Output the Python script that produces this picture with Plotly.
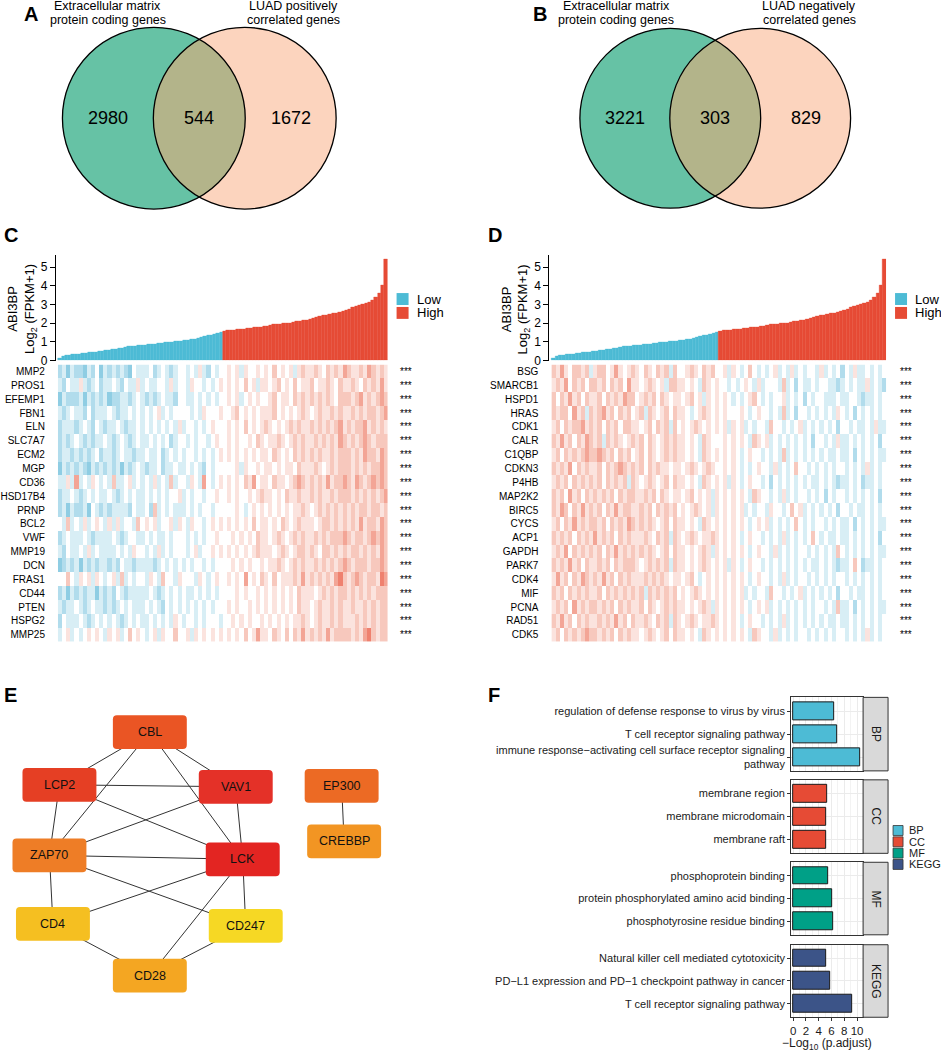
import numpy as np
import plotly.graph_objects as go

W, H = 941, 1062
FONT = "Liberation Sans, Arial, sans-serif"

# ------------------------------------------------------------------ data
venn_a_labels = [["Extracellular matrix", "protein coding genes"], ["LUAD positively", "correlated genes"]]
venn_a_counts = [2980, 544, 1672]
venn_b_labels = [["Extracellular matrix", "protein coding genes"], ["LUAD negatively", "correlated genes"]]
venn_b_counts = [3221, 303, 829]

# ABI3BP log2(FPKM+1), samples sorted ascending
abi3bp_sorted = [
    0.15, 0.22, 0.27, 0.30, 0.32, 0.34, 0.36, 0.38, 0.40, 0.42,
    0.45, 0.47, 0.50, 0.52, 0.54, 0.56, 0.59, 0.62, 0.65, 0.68,
    0.71, 0.74, 0.76, 0.78, 0.80, 0.82, 0.84, 0.86, 0.88, 0.90,
    0.92, 0.94, 0.96, 0.98, 1.00, 1.02, 1.04, 1.06, 1.08, 1.10,
    1.13, 1.16, 1.19, 1.24, 1.30, 1.34, 1.38, 1.42, 1.46, 1.52,
    1.58, 1.60, 1.62, 1.64, 1.66, 1.68, 1.70, 1.72, 1.74, 1.76,
    1.78, 1.80, 1.83, 1.86, 1.89, 1.92, 1.94, 1.96, 1.98, 2.00,
    2.02, 2.05, 2.08, 2.11, 2.14, 2.17, 2.21, 2.26, 2.31, 2.37,
    2.41, 2.44, 2.48, 2.51, 2.54, 2.59, 2.65, 2.71, 2.77, 2.83,
    2.89, 2.95, 3.01, 3.07, 3.14, 3.25, 3.40, 3.62, 4.05, 5.45,
]
n_low = 50
group_names = ["Low", "High"]

genes_c = ["MMP2", "PROS1", "EFEMP1", "FBN1", "ELN", "SLC7A7", "ECM2", "MGP", "CD36", "HSD17B4",
           "PRNP", "BCL2", "VWF", "MMP19", "DCN", "FRAS1", "CD44", "PTEN", "HSPG2", "MMP25"]
# scaled expression levels 0..8 (4 = 0), samples in the same order as the bar strip
heat_c = [
    "2313221324 1323232143 3342343234 4343532434 4545354454 5464545356 5565465657 6556576565",
    "3243353234 2334324335 3433443534 4354434345 4545464535 5456454645 5645565465 5654656575",
    "1322231323 2312233234 3232343324 4334343434 4545345454 4564554656 5656565466 6567565676",
    "3234332423 3343233434 3434534344 4434354445 4456454545 5564545456 5456556565 5656566567",
    "2333234324 3233432334 3434343435 3443434544 4545464545 6545456565 5656565675 6566756565",
    "2323432323 3432343234 3343434234 4343443454 4545445465 4556545656 5565656576 5656765666",
    "2332323234 2332343323 3433423434 3443434345 4545454545 5465454656 5656556566 6565766576",
    "1323232132 3232313234 3233423343 3434324344 4445354454 5545455465 5565456566 6565656676",
    "3353734354 3436334534 3435343634 4354374345 4545465745 5465545676 5656575667 6576567676",
    "2334323434 3343234343 3434343445 3434434454 4545445456 5545465565 5656556566 6565656567",
    "2313223143 2323333243 3426343433 3434344344 4445434545 4545454556 5456565656 5656656656",
    "4363435345 4353534436 4545344535 4354434545 4545454645 5454654565 5545665656 5657566576",
    "2343334323 3334323443 3434334344 4343434454 4454545465 5456545656 5565656667 6566567676",
    "3243343534 3333434354 4343534344 4345344545 4545454565 5545654566 5654665656 5665656576",
    "1232313232 3323243323 3332343434 3434434344 4454545445 4556545656 5565656567 6566656676",
    "4464354535 4345363434 4354364435 4443543454 4545474546 5464555657 5656565786 5676566587",
    "2313232331 3232432333 3343234343 4334343434 4445454454 5454545465 5545656566 5656565666",
    "3233432343 3232343433 3434324343 4343434344 4545445454 5454545465 5456556565 5655656566",
    "2433343234 3434323434 3343434354 3443434443 4454545445 4545454556 5456556565 5565656566",
    "3453434545 4354534645 4345354464 4535454545 4545464575 5465464657 5656575666 6565786566",
]

genes_d = ["BSG", "SMARCB1", "HSPD1", "HRAS", "CDK1", "CALR", "C1QBP", "CDKN3", "P4HB", "MAP2K2",
           "BIRC5", "CYCS", "ACP1", "GAPDH", "PARK7", "CDK4", "MIF", "PCNA", "RAD51", "CDK5"]
heat_d = [
    "6575466563 5664575456 5465465636 4456546564 4535434643 4345343534 3443534342 4353343434",
    "5657465646 6564656475 5456545366 5545436545 4434345435 3444363424 3343443323 4343353432",
    "6465756465 5646565766 4565646545 5456453545 4543434564 3434453434 2434433343 3443233434",
    "6566475636 5675646564 5636545646 5543456545 4544454345 4434363424 4343434354 3424343434",
    "5646566756 5646564665 5456465636 4545654545 4535453434 4364434345 3434343424 4343343533",
    "6575646576 5636565456 5646545656 5545436544 4545454365 4534343434 3424434353 3434343424",
    "5646565676 6765646564 5646545656 5545436545 4545434544 3434363434 3434343343 3424343433",
    "6565746565 5646567656 5646565545 5456545654 4545434345 4435343464 4343434344 3434353434",
    "5656465656 5646565636 5456545646 5545436545 4535434544 3424343434 3433434323 3434233434",
    "6564756465 6565646566 5565646545 5456454535 4545454365 4434353434 4343424344 3434343424",
    "6576465756 5646575665 5656465656 4545654535 4545453434 4354434645 3434343424 4343343434",
    "5646575656 6564656576 5656545646 5545436545 4545454345 4534343464 3434434343 3424343433",
    "6565646565 7565646565 5565465636 5456545565 4545434544 3434353434 3464343343 3434343424",
    "5657465656 5646575656 5656545646 5545456535 4545454345 4435343434 4343434364 3434343433",
    "6565756465 5656465666 5456565636 5545456545 4535434544 3434343434 3433434323 3464233434",
    "5756465765 6575646565 5565656545 5456434545 4545454345 4434353434 4343434344 3434343434",
    "6564656565 5646565656 5636565656 4545654545 4545453434 4364434345 3434343424 4343343434",
    "5656475656 6565646565 5646545656 5545456535 4545454345 4534343434 3434434363 3424343433",
    "6575646565 5656575646 5565465636 5456545565 4545434544 3434353434 3434343343 3434343434",
    "5646565676 6565646565 5456545646 5545436545 4545454365 4435343434 4343434344 3434353434",
]

ppi_nodes = ["CBL", "LCP2", "VAV1", "ZAP70", "LCK", "CD4", "CD247", "CD28", "EP300", "CREBBP"]
ppi_edges = [
    ("CBL", "LCP2"), ("CBL", "ZAP70"), ("CBL", "LCK"), ("CBL", "VAV1"),
    ("LCP2", "VAV1"), ("LCP2", "LCK"), ("LCP2", "ZAP70"),
    ("VAV1", "ZAP70"), ("VAV1", "LCK"),
    ("ZAP70", "LCK"), ("ZAP70", "CD4"), ("ZAP70", "CD247"),
    ("LCK", "CD4"), ("LCK", "CD28"), ("LCK", "CD247"),
    ("CD4", "CD28"), ("CD247", "CD28"),
    ("EP300", "CREBBP"),
]

enrich_groups = ["BP", "CC", "MF", "KEGG"]
enrich_terms = {
    "BP": ["regulation of defense response to virus by virus",
           "T cell receptor signaling pathway",
           "immune response\u2212activating cell surface receptor signaling<br>pathway"],
    "CC": ["membrane region", "membrane microdomain", "membrane raft"],
    "MF": ["phosphoprotein binding", "protein phosphorylated amino acid binding",
           "phosphotyrosine residue binding"],
    "KEGG": ["Natural killer cell mediated cytotoxicity",
             "PD\u2212L1 expression and PD\u22121 checkpoint pathway in cancer",
             "T cell receptor signaling pathway"],
}
enrich_values = {
    "BP": [6.4, 6.9, 10.5],
    "CC": [5.25, 5.2, 5.2],
    "MF": [5.4, 6.1, 6.3],
    "KEGG": [5.1, 5.8, 9.3],
}
enrich_ticks = [0, 2, 4, 6, 8, 10]

# ------------------------------------------------------------------ styles / layout
NPG = {"BP": "#4DBBD5", "CC": "#E64B35", "MF": "#00A087", "KEGG": "#3C5488"}
LOW_COL, HIGH_COL = "#4DBBD5", "#E64B35"
node_pos = {"CBL": (149, 737), "LCP2": (58.5, 790), "VAV1": (235, 792), "ZAP70": (48.5, 861),
            "LCK": (242, 865), "CD4": (52, 930), "CD247": (245, 932), "CD28": (149, 982),
            "EP300": (341, 791), "CREBBP": (343.5, 847)}
node_col = {"CBL": "#EA5524", "LCP2": "#E53F24", "VAV1": "#E43128", "ZAP70": "#EE7D26",
            "LCK": "#E32522", "CD4": "#F5BF21", "CD247": "#F6D824", "CD28": "#F4A622",
            "EP300": "#EC6A24", "CREBBP": "#F29523"}


def dx(a, b):
    return [a / W, b / W]


def dy(a, b):
    return [1 - b / H, 1 - a / H]


fig = go.Figure()
shapes, annos = [], []
layout = dict(
    width=W, height=H, margin=dict(l=0, r=0, t=0, b=0),
    paper_bgcolor="white", plot_bgcolor="rgba(0,0,0,0)",
    showlegend=False, barmode="overlay", bargap=0,
    font=dict(family=FONT, color="black"),
    xaxis=dict(domain=[0, 1], range=[0, W], visible=False, fixedrange=True),
    yaxis=dict(domain=[0, 1], range=[H, 0], visible=False, fixedrange=True),
)


def txt(x, y, s, size=12, xanchor="center", yanchor="middle", bold=False, xref="x", yref="y",
        color="black", angle=0, align="center"):
    if bold:
        s = "<b>" + s + "</b>"
    annos.append(dict(x=x, y=y, xref=xref, yref=yref, text=s, showarrow=False, xanchor=xanchor,
                      yanchor=yanchor, textangle=angle, align=align,
                      font=dict(size=size, color=color, family=FONT)))


# panel letters
for letter, (lx, ly) in {"A": (30, 14), "B": (540, 14), "C": (10, 237), "D": (495, 237),
                         "E": (10, 700), "F": (494, 700)}.items():
    txt(lx, ly, letter, size=20, bold=True)


# ------------------------------------------------------------------ Venn diagrams
def venn(cx1, cx2, cy, r, labels, counts, lab_x):
    a = (cx2 - cx1) / 2.0
    th = np.arccos(a / r)
    arc2 = [(cx2 + r * np.cos(np.pi + s), cy + r * np.sin(np.pi + s)) for s in np.linspace(th, -th, 60)]
    arc1 = [(cx1 + r * np.cos(s), cy + r * np.sin(s)) for s in np.linspace(-th, th, 60)]
    pts = arc2 + arc1
    path = "M" + " L".join(f"{x:.2f},{y:.2f}" for x, y in pts) + " Z"
    shapes.append(dict(type="circle", xref="x", yref="y", x0=cx1 - r, x1=cx1 + r, y0=cy - r, y1=cy + r,
                       fillcolor="#66C2A5", line=dict(width=0), layer="below"))
    shapes.append(dict(type="circle", xref="x", yref="y", x0=cx2 - r, x1=cx2 + r, y0=cy - r, y1=cy + r,
                       fillcolor="#FCD4BE", line=dict(width=0), layer="below"))
    shapes.append(dict(type="path", xref="x", yref="y", path=path, fillcolor="#B3B48A",
                       line=dict(width=0), layer="below"))
    for c in (cx1, cx2):
        shapes.append(dict(type="circle", xref="x", yref="y", x0=c - r, x1=c + r, y0=cy - r, y1=cy + r,
                           fillcolor="rgba(0,0,0,0)", line=dict(width=1.3, color="black"), layer="below"))
    txt(cx1 - r / 2 - 0.5, cy, str(counts[0]), size=18)
    txt((cx1 + cx2) / 2, cy, str(counts[1]), size=18)
    txt(cx2 + r / 2 + 0.5, cy, str(counts[2]), size=18)
    for j in range(2):
        for ln, line in enumerate(labels[j]):
            txt(lab_x[j], 6.5 + ln * 13.5, line, size=12.5)


venn(153, 244, 119, 91.5, venn_a_labels, venn_a_counts, (107, 293))
venn(670, 760, 119, 90.5, venn_b_labels, venn_b_counts, (616, 809))


# ------------------------------------------------------------------ C / D bar strips + heatmaps
def expr_panel(axn, bar_x0, bar_x1, heat_x0, genes, rows, star_x, leg_x):
    xb, yb, xh, yh = f"x{axn}", f"y{axn}", f"x{axn + 1}", f"y{axn + 1}"
    idx = list(range(len(abi3bp_sorted)))
    fig.add_trace(go.Bar(x=idx[:n_low], y=abi3bp_sorted[:n_low], width=1, name=group_names[0],
                         marker=dict(color=LOW_COL, line=dict(color=LOW_COL, width=0.4)),
                         xaxis=xb, yaxis=yb, hoverinfo="skip"))
    fig.add_trace(go.Bar(x=idx[n_low:], y=abi3bp_sorted[n_low:], width=1, name=group_names[1],
                         marker=dict(color=HIGH_COL, line=dict(color=HIGH_COL, width=0.4)),
                         xaxis=xb, yaxis=yb, hoverinfo="skip"))
    layout[f"xaxis{axn}"] = dict(domain=dx(bar_x0, bar_x1), range=[-1.2, len(idx) - 0.5], visible=False,
                                 anchor=yb)
    layout[f"yaxis{axn}"] = dict(domain=dy(257, 363), range=[0, 5.64], anchor=xb, showline=True,
                                 linecolor="black", linewidth=1, ticks="outside", ticklen=5,
                                 tickwidth=1, tickcolor="black", showgrid=False, zeroline=False,
                                 tickvals=[0, 1, 2, 3, 4, 5], tickfont=dict(size=12, color="black"))
    z = [[int(c) - 4 for c in r.replace(" ", "")] for r in rows]
    fig.add_trace(go.Heatmap(z=z, x=list(range(len(z[0]))), y=list(range(len(genes))),
                             colorscale=[[0, "#3FA9CF"], [0.3, "#A9D9EA"], [0.5, "#FFFFFF"],
                                         [0.7, "#F6C2B6"], [1, "#EA4A33"]],
                             zmin=-5.5, zmax=5.5, showscale=False, xaxis=xh, yaxis=yh, hoverinfo="skip"))
    layout[f"xaxis{axn + 1}"] = dict(domain=dx(heat_x0, bar_x1), range=[-0.5, len(z[0]) - 0.5],
                                     visible=False, anchor=yh)
    layout[f"yaxis{axn + 1}"] = dict(domain=dy(367, 646), range=[len(genes) - 0.5, -0.5], anchor=xh,
                                     tickvals=list(range(len(genes))), ticktext=genes,
                                     ticks="outside", ticklen=10, tickcolor="rgba(0,0,0,0)",
                                     showline=False, showgrid=False, zeroline=False,
                                     tickfont=dict(size=10, color="black"))
    for i in range(len(genes)):
        txt(star_x, i, "***", size=10, xref="x", yref=yh)
    # y title
    txt(bar_x0 - 34, 311, "ABI3BP<br>Log<sub>2</sub> (FPKM+1)", size=13, angle=-90)
    # legend
    for k, (nm, col) in enumerate(zip(group_names, [LOW_COL, HIGH_COL])):
        y0 = 295 + k * 14
        shapes.append(dict(type="rect", xref="x", yref="y", x0=leg_x, x1=leg_x + 12, y0=y0, y1=y0 + 12,
                           fillcolor=col, line=dict(width=0)))
        txt(leg_x + 18, y0 + 6, nm, size=13, xanchor="left")


expr_panel(2, 55, 387, 57, genes_c, heat_c, 405, 396)
expr_panel(4, 549, 886, 551, genes_d, heat_d, 906, 895)

# ------------------------------------------------------------------ E: PPI network
ex, ey = [], []
for a, b in ppi_edges:
    ex += [node_pos[a][0], node_pos[b][0], None]
    ey += [node_pos[a][1], node_pos[b][1], None]
fig.add_trace(go.Scatter(x=ex, y=ey, mode="lines", line=dict(color="#333333", width=1),
                         xaxis="x", yaxis="y", hoverinfo="skip"))


def rrect(cx, cy, w=74, h=34, r=4):
    x0, x1, y0, y1 = cx - w / 2, cx + w / 2, cy - h / 2, cy + h / 2
    return (f"M{x0 + r},{y0} L{x1 - r},{y0} Q{x1},{y0} {x1},{y0 + r} L{x1},{y1 - r} "
            f"Q{x1},{y1} {x1 - r},{y1} L{x0 + r},{y1} Q{x0},{y1} {x0},{y1 - r} "
            f"L{x0},{y0 + r} Q{x0},{y0} {x0 + r},{y0} Z")


for n in ppi_nodes:
    cx, cy = node_pos[n]
    shapes.append(dict(type="path", xref="x", yref="y", path=rrect(cx, cy), fillcolor=node_col[n],
                       line=dict(width=0), layer="above"))
    txt(cx, cy, n, size=12.5, color="#111111")

# ------------------------------------------------------------------ F: enrichment facets
f_dom = {"BP": (702, 776), "CC": (785, 859), "MF": (868, 941), "KEGG": (951, 1024)}
for k, g in enumerate(enrich_groups):
    an = 6 + k
    xa, ya = f"x{an}", f"y{an}"
    fig.add_trace(go.Bar(x=enrich_values[g], y=[1, 2, 3], orientation="h", width=0.78,
                         marker=dict(color=NPG[g], line=dict(color="#1a1a1a", width=1)),
                         xaxis=xa, yaxis=ya, hoverinfo="skip"))
    last = (g == enrich_groups[-1])
    layout[f"xaxis{an}"] = dict(domain=dx(791, 863), range=[-0.31, 10.94], anchor=ya,
                                showline=True, mirror=True, linecolor="#333333", linewidth=1,
                                showgrid=True, gridcolor="#EBEBEB", gridwidth=1,
                                tickvals=enrich_ticks, zeroline=False,
                                minor=dict(tickvals=[1, 3, 5, 7, 9], showgrid=True, gridcolor="#F3F3F3",
                                           gridwidth=0.6, ticks=""),
                                ticks="outside" if last else "", ticklen=3, tickcolor="#333333",
                                showticklabels=last, tickfont=dict(size=11.5, color="#1a1a1a"))
    layout[f"yaxis{an}"] = dict(domain=dy(*f_dom[g]), range=[3.6, 0.4], anchor=xa,
                                tickvals=[1, 2, 3], ticktext=enrich_terms[g],
                                showline=True, mirror=True, linecolor="#333333", linewidth=1,
                                showgrid=True, gridcolor="#EBEBEB", zeroline=False,
                                ticks="outside", ticklen=3, tickcolor="#333333",
                                tickfont=dict(size=11, color="#1a1a1a"))
    y0, y1 = f_dom[g]
    shapes.append(dict(type="rect", xref="x", yref="y", x0=863, x1=888, y0=y0, y1=y1,
                       fillcolor="#D9D9D9", line=dict(color="#333333", width=1)))
    txt(876, (y0 + y1) / 2, g, size=12, angle=90, color="#1a1a1a")
    ly0 = 831 + k * 11.4
    shapes.append(dict(type="rect", xref="x", yref="y", x0=893, x1=903, y0=ly0, y1=ly0 + 10,
                       fillcolor=NPG[g], line=dict(color="#333333", width=0.8)))
    txt(907, ly0 + 5, g, size=11, xanchor="left", color="#1a1a1a")

txt(827, 1051, "\u2212Log<sub>10</sub> (p.adjust)", size=12, color="#1a1a1a")

layout["shapes"] = shapes
layout["annotations"] = annos
fig.update_layout(**layout)
fig.write_html("out.html", config={"displayModeBar": False},
               post_script="document.body.style.margin='0';")
